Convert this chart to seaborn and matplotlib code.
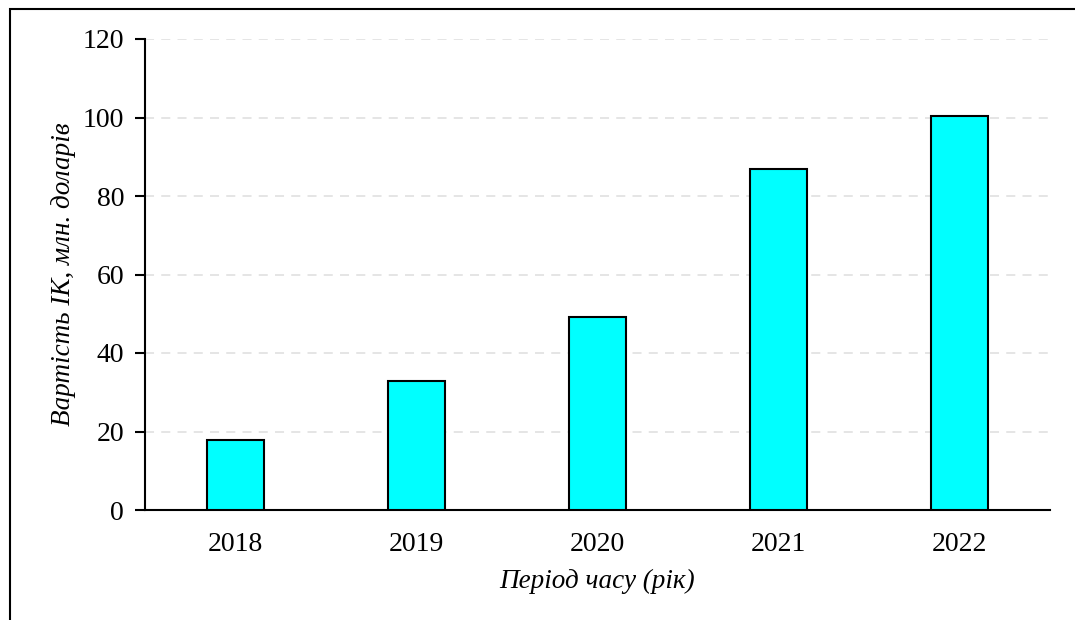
import matplotlib
matplotlib.use("Agg")
import matplotlib.pyplot as plt
import seaborn as sns
import pandas as pd
from matplotlib.patches import Rectangle

years = ["2018", "2019", "2020", "2021", "2022"]
values = [17.8, 32.8, 49.2, 86.9, 100.3]
y_ticks = [0, 20, 40, 60, 80, 100, 120]

sns.set_style("white")
plt.rcParams["font.family"] = ["Liberation Serif", "DejaVu Serif"]
plt.rcParams["text.color"] = "black"
plt.rcParams["axes.labelcolor"] = "black"
plt.rcParams["xtick.color"] = "black"
plt.rcParams["ytick.color"] = "black"

df = pd.DataFrame({"year": years, "value": values})

fig = plt.figure(figsize=(10.75, 6.2), dpi=100)
ax = fig.add_axes([145 / 1075, 1 - 510 / 620, (1050 - 145) / 1075, (510 - 39) / 620])

sns.barplot(data=df, x="year", y="value", ax=ax, color="#00ffff", saturation=1,
            width=0.315, edgecolor="black", linewidth=1.5, zorder=3)

ax.set_xlim(-0.5, 4.5)
ax.set_ylim(0, 120)
ax.set_yticks(y_ticks)
ax.set_yticklabels([str(t) for t in y_ticks])
ax.yaxis.grid(True, color="#e3e3e3", linestyle=(0, (5, 4)), linewidth=1.3, zorder=0)
ax.xaxis.grid(False)
ax.set_axisbelow(True)

for side in ("top", "right"):
    ax.spines[side].set_visible(False)
for side in ("left", "bottom"):
    ax.spines[side].set_color("black")
    ax.spines[side].set_linewidth(1.5)

ax.tick_params(axis="y", which="both", left=True, direction="out", length=7,
               width=1.5, color="black", labelcolor="black", labelsize=20, pad=8)
ax.tick_params(axis="x", bottom=False, labelcolor="black", labelsize=20, pad=12)

ax.set_xlabel("Період часу (рік)", fontsize=19.5, fontstyle="italic", labelpad=9,
              color="black")
ax.set_ylabel("Вартість ІК, млн. доларів", fontsize=19.5, fontstyle="italic",
              labelpad=5, color="black")

# frame around the figure (open on the right and bottom)
fig.patches.append(Rectangle((10 / 1075, -0.1), 1.2, 1 - 9 / 620 + 0.1,
                             transform=fig.transFigure, fill=False,
                             edgecolor="black", linewidth=1.5, zorder=10))

fig.savefig("out.png", dpi=100, facecolor="white")
